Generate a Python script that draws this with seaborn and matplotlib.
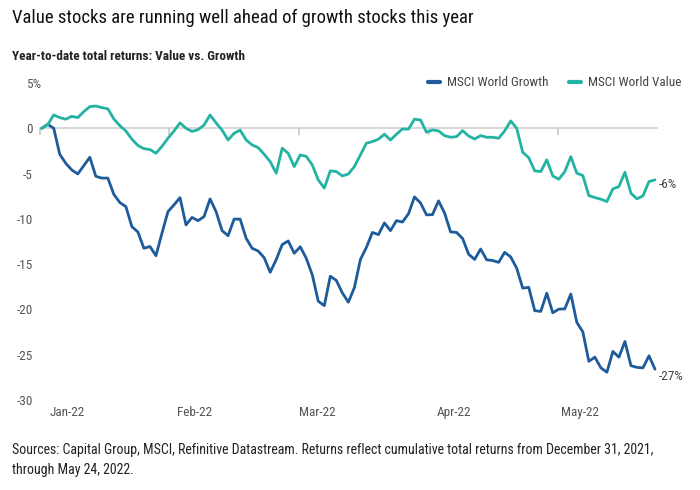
import matplotlib
matplotlib.use("Agg")
import matplotlib.pyplot as plt
import matplotlib.font_manager as fm
import matplotlib.transforms as mtransforms
import seaborn as sns
import pandas as pd
import numpy as np

# ---------------- data ----------------
growth = [0.0, 0.44, 0.0, -2.87, -3.86, -4.6, -5.04, -4.12, -3.2, -5.3,
          -5.5, -5.5, -7.3, -8.2, -8.65, -10.86, -11.45, -13.25, -13.05, -14.07,
          -11.58, -9.2, -8.46, -7.66, -10.67, -9.84, -10.2, -9.75, -7.8, -9.2,
          -11.3, -11.86, -10.03, -10.03, -12.14, -13.25, -13.55, -14.29, -15.9, -14.5,
          -12.84, -12.44, -13.8, -13.08, -14.35, -16.18, -19.1, -19.58, -16.33, -16.8,
          -18.17, -19.2, -17.6, -14.5, -13.15, -11.5, -11.74, -10.45, -11.3, -10.2,
          -10.35, -9.44, -7.58, -8.24, -9.56, -9.53, -8.01, -9.35, -11.44, -11.5,
          -12.17, -13.9, -14.48, -13.33, -14.52, -14.6, -14.8, -13.7, -14.2, -15.45,
          -17.65, -17.56, -20.14, -20.22, -18.21, -20.37, -19.97, -19.94, -18.3, -21.43,
          -22.48, -25.73, -25.27, -26.45, -26.93, -24.64, -25.27, -23.54, -26.21, -26.4,
          -26.45, -25.12, -26.6]
value = [0.0, 0.4, 1.47, 1.18, 1.0, 1.32, 1.18, 1.84, 2.39, 2.46,
         2.28, 2.15, 1.03, 0.29, -0.3, -1.2, -1.9, -2.25, -2.35, -2.76,
         -2.0, -1.1, -0.3, 0.6, 0.0, -0.35, -0.15, 0.35, 1.47, 0.6,
         -0.2, -1.29, -0.55, -0.2, -1.29, -1.84, -2.13, -2.87, -3.68, -4.96,
         -2.2, -2.76, -4.23, -2.94, -3.1, -4.04, -5.7, -6.6, -4.7, -4.78,
         -5.26, -5.05, -4.23, -2.94, -1.65, -1.47, -1.21, -0.66, -1.29, -0.66,
         -0.07, -0.1, 1.0, 0.92, -0.44, -0.18, -0.29, -0.81, -0.99, -0.92,
         -0.26, -0.85, -1.18, -0.81, -0.99, -0.99, -1.1, -0.29, 0.81, 0.0,
         -2.65, -3.24, -4.7, -4.78, -3.49, -5.26, -5.62, -4.78, -3.13, -4.96,
         -5.22, -7.43, -7.65, -7.83, -8.09, -6.69, -6.43, -4.85, -7.17, -7.79,
         -7.46, -5.88, -5.7]
series_names = ["MSCI World Growth", "MSCI World Value"]
month_labels = ["Jan-22", "Feb-22", "Mar-22", "Apr-22", "May-22"]
end_labels = ["-27%", "-6%"]
y_ticks = [5, 0, -5, -10, -15, -20, -25, -30]
y_tick_labels = ["5%", "0", "-5", "-10", "-15", "-20", "-25", "-30"]

title = "Value stocks are running well ahead of growth stocks this year"
subtitle = "Year-to-date total returns: Value vs. Growth"
footnote = ("Sources: Capital Group, MSCI, Refinitive Datastream. Returns reflect cumulative total returns from December 31, 2021,\n"
            "through May 24, 2022.")

# ---------------- style ----------------
sns.set_theme(style="white")
avail = {f.name for f in fm.fontManager.ttflist}
fam = "Liberation Sans"
for cand in ["Liberation Sans Narrow", "Roboto Condensed", "Open Sans Condensed"]:
    if cand in avail:
        fam = cand
        break
plt.rcParams["font.family"] = [fam, "DejaVu Sans"]

colors = {"MSCI World Growth": "#1d5b9b", "MSCI World Value": "#22b3a2"}

n = len(growth)
df = pd.DataFrame({
    "idx": list(range(n)) * 2,
    "ret": growth + value,
    "series": [series_names[0]] * n + [series_names[1]] * n,
})

fig = plt.figure(figsize=(7, 4.9), dpi=100)
ax = fig.add_axes([39.9 / 700, (490 - 400) / 490, (656.8 - 39.9) / 700, 317 / 490])

sns.lineplot(data=df, x="idx", y="ret", hue="series", palette=colors,
             linewidth=2.0, ax=ax, legend=False)

ax.set_xlim(-0.3, n - 1 + 0.3)
ax.set_ylim(-30, 5)
ax.set_xlabel("")
ax.set_ylabel("")

for s in ["top", "right", "left"]:
    ax.spines[s].set_visible(False)
ax.spines["bottom"].set_position(("data", 0))
ax.spines["bottom"].set_color("#d4d4d4")
ax.spines["bottom"].set_linewidth(1.3)
ax.spines["bottom"].set_zorder(0)

step = (n - 1) / 102 * 21.55
tick_pos = [-0.3 + k * step for k in range(5)]
ax.set_xticks(tick_pos)
ax.set_xticklabels([])
ax.tick_params(axis="x", which="major", direction="out", length=5, width=1.2,
               color="#c8c8c8", bottom=True)

ax.set_yticks(y_ticks)
ax.set_yticklabels(y_tick_labels)
ax.tick_params(axis="y", length=0, pad=5, labelsize=9.5, labelcolor="#555555")
ax.grid(False)

# the "5%" label hangs its percent sign past the column of numbers
for lab in ax.get_yticklabels():
    if lab.get_text() == "5%":
        lab.set_transform(lab.get_transform() +
                          mtransforms.ScaledTranslation(8 / 100, 0, fig.dpi_scale_trans))

label_pos = [4.2, 25.5, 45.8, 68.6, 89.5]
for xp, lab in zip(label_pos, month_labels):
    ax.text(xp, -31.4, lab, ha="center", va="center", fontsize=9.5,
            color="#555555", clip_on=False)

# end labels
ax.annotate(end_labels[0], (n - 1, growth[-1]), xytext=(3, -5),
            textcoords="offset points", ha="left", va="center",
            fontsize=9.5, color="#444444", annotation_clip=False)
ax.annotate(end_labels[1], (n - 1, value[-1]), xytext=(3, -3),
            textcoords="offset points", ha="left", va="center",
            fontsize=9.5, color="#444444", annotation_clip=False)

# legend
from matplotlib.lines import Line2D
handles = [Line2D([], [], color=colors[s], lw=3) for s in series_names]
fig.legend(handles, series_names, loc="center right",
           bbox_to_anchor=(0.99, (490 - 83) / 490), ncol=2, frameon=False,
           handlelength=0.9, handletextpad=0.5, columnspacing=1.6,
           fontsize=9.5, labelcolor="#444444")

fig.text(12 / 700, 1 - 18 / 490, title, fontsize=13.5, color="#111111",
         ha="left", va="center")
fig.text(12 / 700, 1 - 57 / 490, subtitle, fontsize=9.5, fontweight="bold",
         color="#222222", ha="left", va="center")
fig.text(12 / 700, 1 - 460 / 490, footnote, fontsize=10, color="#222222",
         ha="left", va="center", linespacing=1.5)

fig.savefig("out.png", dpi=100)
